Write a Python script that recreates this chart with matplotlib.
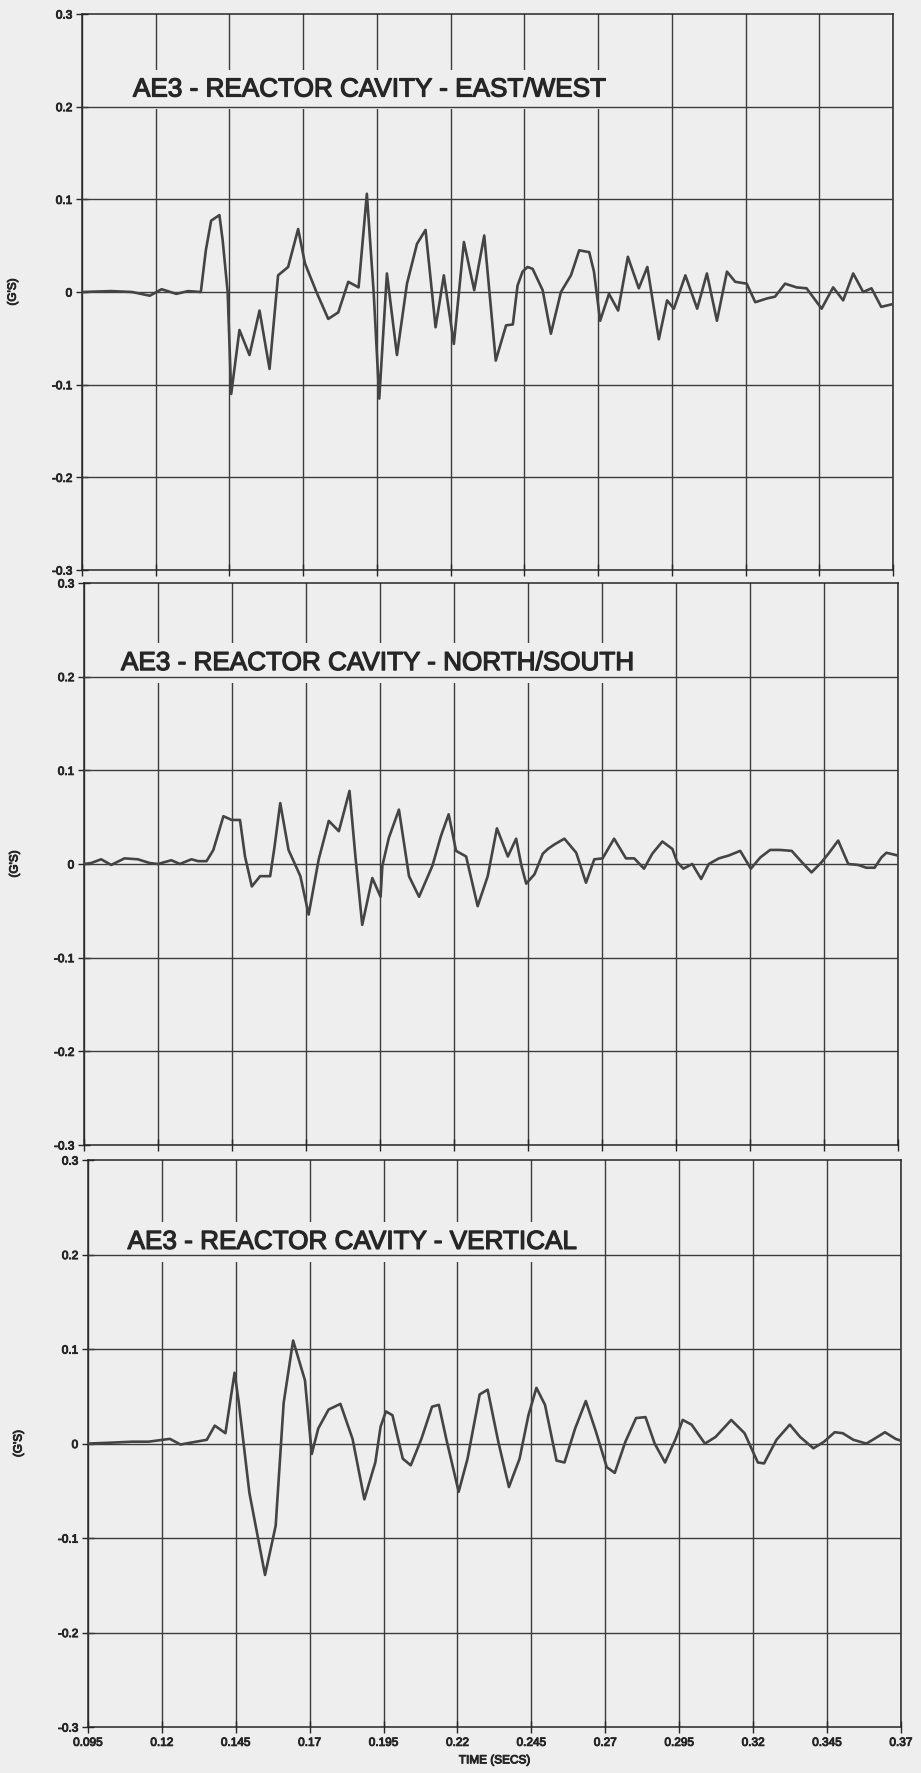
import numpy as np
import matplotlib
matplotlib.use("Agg")
import matplotlib.pyplot as plt
import matplotlib.patheffects as pe

plt.rcParams['font.family'] = ['Liberation Sans', 'DejaVu Sans']

# AE3 - east/west (time in secs, acceleration in G's)
ew_t = [0.095, 0.105, 0.112, 0.118, 0.122, 0.127, 0.131, 0.1353, 0.137, 0.1388,
        0.1416, 0.1427, 0.1444, 0.1456, 0.1484, 0.1518, 0.1552, 0.1586, 0.1615, 0.1649,
        0.1683, 0.1706, 0.1745, 0.1785, 0.1819, 0.1853, 0.1888, 0.1916, 0.1939, 0.1958,
        0.1984, 0.2018, 0.2052, 0.2086, 0.2115, 0.2149, 0.2177, 0.2211, 0.2245, 0.2280,
        0.2314, 0.2353, 0.2388, 0.2411, 0.2427, 0.2444, 0.2461, 0.2478, 0.2512, 0.2540,
        0.2574, 0.2608, 0.2636, 0.2670, 0.2686, 0.2707, 0.2737, 0.2768, 0.2801, 0.2838,
        0.2867, 0.2906, 0.2934, 0.2957, 0.2996, 0.3036, 0.3069, 0.3103, 0.3137, 0.3165,
        0.3204, 0.3233, 0.3272, 0.3300, 0.3334, 0.3373, 0.3407, 0.3458, 0.3497, 0.3531,
        0.3565, 0.3599, 0.3627, 0.3660, 0.3700]
ew_g = [0.0, 0.001, 0.0, -0.004, 0.003, -0.002, 0.001, 0.0, 0.045, 0.077,
        0.083, 0.056, 0.0, -0.11, -0.041, -0.068, -0.02, -0.083, 0.018, 0.027,
        0.068, 0.031, 0.0, -0.029, -0.022, 0.011, 0.005, 0.106, 0.0, -0.115,
        0.02, -0.068, 0.009, 0.052, 0.067, -0.038, 0.018, -0.056, 0.054, 0.002,
        0.061, -0.074, -0.036, -0.035, 0.007, 0.022, 0.027, 0.025, 0.002, -0.045,
        0.0, 0.018, 0.045, 0.043, 0.022, -0.031, -0.002, -0.02, 0.038, 0.004,
        0.027, -0.051, -0.009, -0.018, 0.018, -0.018, 0.02, -0.031, 0.022, 0.011,
        0.009, -0.011, -0.007, -0.005, 0.009, 0.005, 0.004, -0.018, 0.005, -0.009,
        0.02, 0.0, 0.004, -0.016, -0.013]

# AE3 - north/south
ns_t = [0.095, 0.0974, 0.1008, 0.1042, 0.1087, 0.1132, 0.1172, 0.1200, 0.1245, 0.1274,
        0.1313, 0.1336, 0.1364, 0.1387, 0.1421, 0.1449, 0.1477, 0.1494, 0.1517, 0.1545,
        0.1579, 0.1594, 0.1613, 0.1641, 0.1681, 0.1709, 0.1743, 0.1777, 0.1811, 0.1847,
        0.1867, 0.1890, 0.1924, 0.1952, 0.1958, 0.1980, 0.2014, 0.2048, 0.2082, 0.2127,
        0.2156, 0.2182, 0.2207, 0.2241, 0.2280, 0.2314, 0.2345, 0.2382, 0.2410, 0.2428,
        0.2444, 0.2472, 0.2500, 0.2517, 0.2540, 0.2573, 0.2613, 0.2646, 0.2674, 0.2702,
        0.2741, 0.2781, 0.2809, 0.2842, 0.2870, 0.2904, 0.2938, 0.2954, 0.2975, 0.3005,
        0.3035, 0.3061, 0.3095, 0.3128, 0.3167, 0.3203, 0.3235, 0.3268, 0.3302, 0.3341,
        0.3375, 0.3408, 0.3442, 0.3465, 0.3498, 0.3532, 0.3565, 0.3593, 0.3621, 0.3644,
        0.3661, 0.3700]
ns_g = [0.0, 0.001, 0.005, -0.001, 0.006, 0.005, 0.001, 0.0, 0.004, 0.0,
        0.005, 0.003, 0.003, 0.015, 0.051, 0.047, 0.047, 0.008, -0.024, -0.013,
        -0.013, 0.019, 0.065, 0.015, -0.013, -0.054, 0.005, 0.046, 0.035, 0.078,
        0.008, -0.065, -0.015, -0.035, -0.002, 0.028, 0.058, -0.013, -0.035, -0.002,
        0.030, 0.053, 0.014, 0.008, -0.045, -0.013, 0.038, 0.008, 0.027, -0.002,
        -0.021, -0.011, 0.011, 0.016, 0.021, 0.027, 0.012, -0.020, 0.005, 0.006,
        0.027, 0.006, 0.006, -0.005, 0.011, 0.024, 0.016, 0.002, -0.005, 0.0,
        -0.016, 0.0, 0.006, 0.009, 0.014, -0.005, 0.007, 0.015, 0.015, 0.014,
        0.002, -0.009, 0.002, 0.011, 0.025, 0.0, -0.001, -0.004, -0.004, 0.007,
        0.012, 0.009]

# AE3 - vertical
vt_t = [0.095, 0.1030, 0.1101, 0.1155, 0.1227, 0.1263, 0.1316, 0.1352, 0.1379, 0.1415,
        0.1446, 0.1460, 0.1496, 0.1549, 0.1585, 0.1612, 0.1644, 0.1684, 0.1707, 0.1729,
        0.1764, 0.1804, 0.1845, 0.1885, 0.1922, 0.1940, 0.1958, 0.1980, 0.2015, 0.2042,
        0.2078, 0.2114, 0.2137, 0.2162, 0.2204, 0.2234, 0.2275, 0.2302, 0.2338, 0.2374,
        0.2410, 0.2440, 0.2467, 0.2496, 0.2535, 0.2562, 0.2598, 0.2634, 0.2669, 0.2705,
        0.2732, 0.2768, 0.2804, 0.2836, 0.2867, 0.2902, 0.2938, 0.2962, 0.2992, 0.3037,
        0.3073, 0.3126, 0.3171, 0.3216, 0.3237, 0.3279, 0.3324, 0.3359, 0.3404, 0.3440,
        0.3476, 0.3503, 0.3539, 0.3583, 0.3610, 0.3646, 0.3682, 0.3700]
vt_g = [0.0, 0.001, 0.002, 0.002, 0.005, -0.001, 0.002, 0.004, 0.019, 0.011,
        0.075, 0.044, -0.052, -0.139, -0.087, 0.043, 0.109, 0.067, -0.011, 0.016,
        0.036, 0.042, 0.005, -0.059, -0.02, 0.018, 0.034, 0.03, -0.016, -0.023,
        0.005, 0.039, 0.041, 0.005, -0.051, -0.016, 0.052, 0.057, 0.002, -0.046,
        -0.016, 0.03, 0.059, 0.041, -0.018, -0.02, 0.016, 0.045, 0.012, -0.025,
        -0.031, 0.002, 0.027, 0.028, 0.0, -0.02, 0.005, 0.025, 0.02, 0.0,
        0.007, 0.025, 0.011, -0.02, -0.021, 0.004, 0.02, 0.007, -0.005, 0.002,
        0.012, 0.011, 0.004, 0.0, 0.005, 0.012, 0.005, 0.003]

titles = ["AE3 - REACTOR CAVITY - EAST/WEST",
          "AE3 - REACTOR CAVITY - NORTH/SOUTH",
          "AE3 - REACTOR CAVITY - VERTICAL"]

yticks = [0.3, 0.2, 0.1, 0.0, -0.1, -0.2, -0.3]
ytick_labels = ["0.3", "0.2", "0.1", "0", "-0.1", "-0.2", "-0.3"]
xticks = [0.095, 0.12, 0.145, 0.17, 0.195, 0.22, 0.245, 0.27, 0.295, 0.32, 0.345, 0.37]
xtick_labels = ["0.095", "0.12", "0.145", "0.17", "0.195", "0.22",
                "0.245", "0.27", "0.295", "0.32", "0.345", "0.37"]

series = [(ew_t, ew_g), (ns_t, ns_g), (vt_t, vt_g)]

bg = "#eeeeee"
ink = "#262626"
heavy = [pe.withStroke(linewidth=0.7, foreground=ink)]

fig = plt.figure(figsize=(9.21, 17.73), dpi=100, facecolor=bg)

# panel rectangles (the scan is a little skewed, so each one is placed on its own)
rects = [[0.0890, 0.6785, 0.8806, 0.3136],
         [0.0912, 0.3542, 0.8838, 0.3170],
         [0.0955, 0.0259, 0.8827, 0.3198]]
# left edge / baseline of the titles, in data units
title_pos = [(0.1123, 0.211), (0.1075, 0.207), (0.1084, 0.206)]

for i in range(3):
    ax = fig.add_axes(rects[i])
    ax.set_facecolor(bg)
    t, g = series[i]
    ax.plot(t, g, color="#444444", linewidth=1.9, zorder=4)

    ax.set_xlim(0.095, 0.37)
    ax.set_ylim(-0.3, 0.3)
    ax.set_xticks(xticks)
    ax.set_yticks(yticks)
    ax.set_yticklabels(ytick_labels)
    ax.set_xticklabels(xtick_labels)

    # vertical grid goes under the title box, horizontal lines stay on top of it
    ax.set_axisbelow(True)
    ax.grid(which="major", axis="x", color="#3c3c3c", linewidth=1.0)
    for yv in yticks[1:-1]:
        ax.axhline(yv, color="#3c3c3c", linewidth=1.0, zorder=3.5)
    for s in ax.spines.values():
        s.set_color(ink)
        s.set_linewidth(1.1)

    ax.tick_params(direction="inout", length=8, width=1, color=ink,
                   labelcolor=ink, labelsize=8.5, pad=3)
    for lab in ax.get_yticklabels() + ax.get_xticklabels():
        lab.set_path_effects(heavy)
    if i < 2:
        ax.tick_params(labelbottom=False)
    else:
        ax.set_xlabel("TIME (SECS)", fontsize=8.5, color=ink, labelpad=4,
                      path_effects=heavy)

    ax.set_ylabel("(G'S)", fontsize=8.5, color=ink, path_effects=heavy)
    ax.yaxis.set_label_coords(-0.078, 0.5)

    # panel title, its box hides the vertical grid behind it
    ax.text(title_pos[i][0], title_pos[i][1], titles[i], fontsize=18.8,
            color=ink, ha="left", va="baseline", zorder=3,
            path_effects=[pe.withStroke(linewidth=0.9, foreground=ink)],
            bbox=dict(boxstyle="square,pad=0.3", facecolor=bg, edgecolor="none"))

plt.savefig("out.png", dpi=100, facecolor=bg)
